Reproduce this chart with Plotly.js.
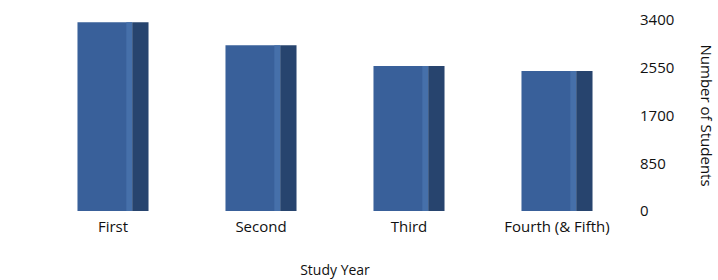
<!DOCTYPE html>
<html>
<head>
<meta charset="utf-8">
<script src="https://cdn.plot.ly/plotly-3.0.1.min.js"></script>
<style>
  html, body { margin: 0; padding: 0; background: #ffffff; }
  #chart { width: 718px; height: 280px; }
</style>
</head>
<body>
<div id="chart"></div>
<script>
// Data
const categories = ["First", "Second", "Third", "Fourth (& Fifth)"];
const students = [3360, 2950, 2580, 2490];
const yTicks = [0, 850, 1700, 2550, 3400];

const FONT = "Open Sans, Noto Sans, sans-serif";

function face(width, offset, color) {
  return {
    type: "bar",
    x: categories,
    y: students,
    width: width,
    offset: offset,
    marker: { color: color, line: { width: 0 } },
    hoverinfo: "skip",
    showlegend: false
  };
}

const traces = [
  face(0.37, -0.24, "#39609a"),   // front face
  face(0.04, 0.09, "#4670aa"),    // highlight band near the edge
  face(0.11, 0.13, "#27446e")     // side face
];

const layout = {
  width: 718,
  height: 280,
  margin: { l: 39, r: 87, t: 20, b: 69 },
  paper_bgcolor: "#ffffff",
  plot_bgcolor: "#ffffff",
  barmode: "overlay",
  font: { family: FONT, size: 15, color: "#111111" },
  xaxis: {
    type: "category",
    categoryorder: "array",
    categoryarray: categories,
    range: [-0.5, 3.5],
    showgrid: false,
    zeroline: false,
    showline: false,
    ticks: "",
    ticklabelstandoff: 5,
    tickfont: { family: FONT, size: 15, color: "#111111" },
    title: { text: "Study Year", font: { family: FONT, size: 14, color: "#111111" }, standoff: 30 }
  },
  yaxis: {
    side: "right",
    range: [0, 3400],
    tickmode: "array",
    tickvals: yTicks,
    ticktext: yTicks.map(String),
    showgrid: false,
    zeroline: false,
    showline: false,
    ticks: "",
    ticklabelstandoff: 8,
    tickfont: { family: FONT, size: 15, color: "#111111" }
  },
  annotations: [{
    text: "Number of Students",
    xref: "paper", yref: "paper",
    x: 1.13, y: 0.5,
    xanchor: "center", yanchor: "middle",
    textangle: 90,
    showarrow: false,
    font: { family: FONT, size: 15, color: "#111111" }
  }]
};

Plotly.newPlot("chart", traces, layout, { displayModeBar: false, staticPlot: true });
</script>
</body>
</html>
